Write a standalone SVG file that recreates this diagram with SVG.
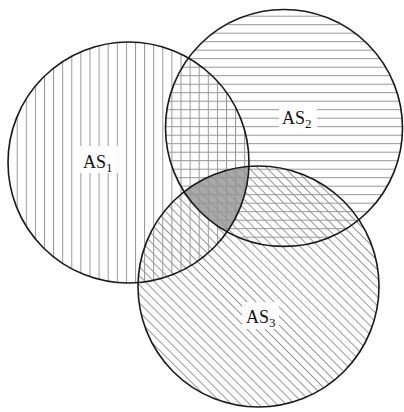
<svg xmlns="http://www.w3.org/2000/svg" width="404" height="412" viewBox="0 0 404 412">
<style>
.outline{fill:none;stroke:#1a1a1a;stroke-width:1.6}
.lbl{font-family:"Liberation Serif","Times New Roman",serif;font-size:18px;fill:#111}
.sub{font-size:13px}
.knock{fill:#fff}
</style>
<defs>
<pattern id="pv" patternUnits="userSpaceOnUse" x="16.7" y="0" width="9.1" height="10">
<line x1="0.5" y1="0" x2="0.5" y2="10" stroke="#959595" stroke-width="1"/>
</pattern>
<pattern id="ph" patternUnits="userSpaceOnUse" x="0" y="15.7" width="10" height="8.5">
<line x1="0" y1="0.5" x2="10" y2="0.5" stroke="#959595" stroke-width="1"/>
</pattern>
<pattern id="pd" patternUnits="userSpaceOnUse" x="0" y="0" width="10" height="6.4" patternTransform="rotate(45)">
<line x1="0" y1="0.5" x2="10" y2="0.5" stroke="#959595" stroke-width="1"/>
</pattern>
<clipPath id="c1"><circle cx="128.5" cy="162.5" r="120.5"/></clipPath>
<clipPath id="c2"><circle cx="284" cy="128" r="118.5"/></clipPath>
</defs>
<rect width="404" height="412" fill="#fff"/>
<g id="triple-overlap" clip-path="url(#c1)">
<g clip-path="url(#c2)">
<circle cx="258.5" cy="286.5" r="120.5" fill="#a9a9a9"/>
</g>
</g>
<g id="AS1">
<circle cx="128.5" cy="162.5" r="120.5" fill="url(#pv)"/>
</g>
<g id="AS2">
<circle cx="284" cy="128" r="118.5" fill="url(#ph)"/>
</g>
<g id="AS3">
<circle cx="258.5" cy="286.5" r="120.5" fill="url(#pd)"/>
</g>
<g id="outlines">
<circle class="outline" cx="128.5" cy="162.5" r="120.5"/>
<circle class="outline" cx="284" cy="128" r="118.5"/>
<circle class="outline" cx="258.5" cy="286.5" r="120.5"/>
</g>
<g id="labels">
<rect class="knock" x="79" y="146" width="39" height="27"/>
<text class="lbl" x="83" y="168">AS<tspan class="sub" dy="4">1</tspan></text>
<rect class="knock" x="279" y="105" width="38" height="25"/>
<text class="lbl" x="282" y="124">AS<tspan class="sub" dy="4">2</tspan></text>
<rect class="knock" x="242" y="302" width="37" height="27"/>
<text class="lbl" x="246" y="323">AS<tspan class="sub" dy="4">3</tspan></text>
</g>
</svg>
